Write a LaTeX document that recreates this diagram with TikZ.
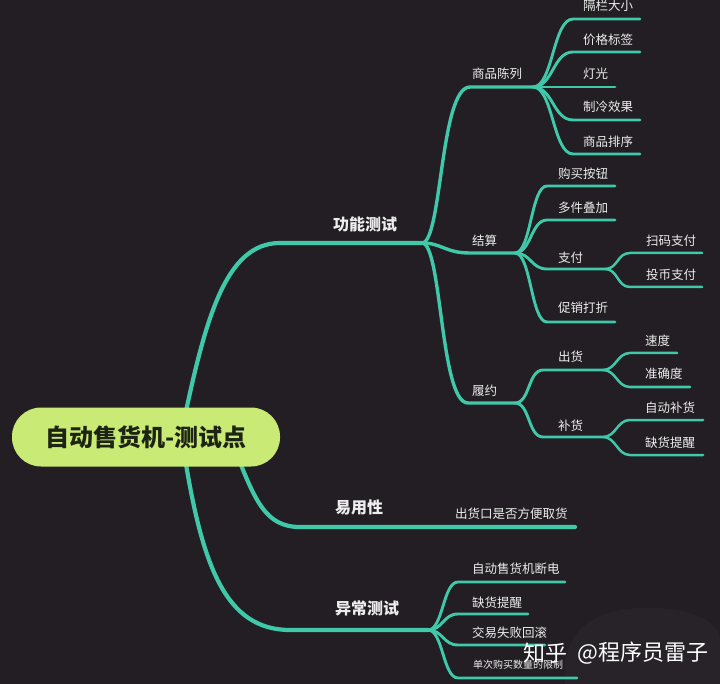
\documentclass[tikz,border=0pt]{standalone}
\usepackage{fontspec}
\newfontfamily\cjk{Noto Sans CJK SC}
\definecolor{bg}{HTML}{221E23}
\definecolor{branch}{HTML}{3FC9A9}
\definecolor{rootfill}{HTML}{C9EB75}
\definecolor{roottext}{HTML}{1E2414}
\definecolor{labeltext}{HTML}{EDEDED}
\newcommand\twig[7]{%
  \coordinate (#2a) at (#4,#3);
  \coordinate (#2b) at (#5,#3);
  \draw[#6] (#1) .. controls +(#7,0) and +(-#7,0) .. (#2a) -- (#2b);}
\begin{document}
\begin{tikzpicture}[x=1pt,y=-1pt,
  l1/.style={draw=branch,line width=4.2pt,line cap=round},
  l2/.style={draw=branch,line width=3.4pt,line cap=round},
  l3/.style={draw=branch,line width=2.9pt,line cap=round},
  l4/.style={draw=branch,line width=2.5pt,line cap=round},
  lbl/.style={anchor=west,inner sep=0pt,text=labeltext,font=\cjk\fontsize{12.5}{14}\selectfont},
  big/.style={lbl,font=\cjk\bfseries\fontsize{16}{18}\selectfont},
  small/.style={lbl,font=\cjk\fontsize{10}{12}\selectfont},
  root/.style={fill=rootfill,rounded corners=29pt,minimum width=268pt,minimum height=59pt,
    inner sep=0pt,text=roottext,font=\cjk\bfseries\fontsize{24}{28}\selectfont},
  wm/.style={anchor=west,inner sep=0pt,text=white,font=\cjk\fontsize{22}{26}\selectfont}]
\useasboundingbox (0,0) rectangle (720,684);
\fill[bg] (0,0) rectangle (720,684);
\fill[white,opacity=0.025] (565,684) .. controls (560,625) and (600,605) .. (660,608)
  .. controls (710,612) and (720,630) .. (720,640) -- (720,684) -- cycle;

% main branches
\coordinate (r1) at (182,430);
\coordinate (r2) at (235,450);
\coordinate (r3) at (184,452);
\coordinate (f1a) at (280,243); \coordinate (f1e) at (422,243);
\draw[l1] (r1) .. controls (205,320) and (225,243) .. (f1a) -- (f1e);
\coordinate (f2a) at (300,527); \coordinate (f2e) at (575,527);
\draw[l1] (r2) .. controls (255,500) and (265,527) .. (f2a) -- (f2e);
\coordinate (f3a) at (290,630); \coordinate (f3e) at (428,630);
\draw[l1] (r3) .. controls (202,565) and (225,630) .. (f3a) -- (f3e);

% level 2 under 功能测试
\coordinate (spa) at (470,87); \coordinate (sp) at (533,87);
\draw[l2] (f1e) .. controls (442,243) and (440,87) .. (spa) -- (sp);
\coordinate (jsa) at (470,253); \coordinate (js) at (515,253);
\draw[l2] (f1e) .. controls (442,243) and (445,253) .. (jsa) -- (js);
\coordinate (lya) at (468,403); \coordinate (ly) at (515,403);
\draw[l2] (f1e) .. controls (442,243) and (440,403) .. (lya) -- (ly);

% 商品陈列 children
\twig{sp}{g1}{19}{573}{640}{l3}{20}
\twig{sp}{g2}{52}{573}{640}{l3}{20}
\twig{sp}{g3}{87}{573}{615}{l3}{20}
\twig{sp}{g4}{120}{573}{640}{l3}{20}
\twig{sp}{g5}{154}{573}{640}{l3}{20}

% 结算 children
\twig{js}{j1}{186}{547}{615}{l3}{16}
\twig{js}{j2}{220}{547}{615}{l3}{16}
\twig{js}{zf}{269}{547}{605}{l3}{16}
\twig{js}{j4}{322}{547}{615}{l3}{16}
\twig{zfb}{z1}{253}{630}{702}{l4}{13}
\twig{zfb}{z2}{287}{630}{702}{l4}{13}

% 履约 children
\twig{ly}{ch}{370}{543}{603}{l3}{15}
\twig{ly}{bh}{437}{543}{603}{l3}{15}
\twig{chb}{c1}{353}{630}{677}{l4}{13}
\twig{chb}{c2}{387}{630}{690}{l4}{13}
\twig{bhb}{b1}{420}{630}{703}{l4}{13}
\twig{bhb}{b2}{455}{630}{703}{l4}{13}

% 异常测试 children
\twig{f3e}{y1}{582}{458}{565}{l3}{15}
\twig{f3e}{y2}{614}{458}{528}{l3}{15}
\twig{f3e}{y3}{645}{458}{545}{l3}{15}
\twig{f3e}{y4}{678}{458}{577}{l3}{15}

% root
\node[root] (root) at (146,437) {自动售货机-测试点};

% labels
\node[big] (t1) at (333,224) {功能测试};
\node[big] (t2) at (335,507) {易用性};
\node[big] (t3) at (335,608) {异常测试};

\node[lbl] (n1) at (472,74) {商品陈列};
\node[lbl] (n2) at (472,241) {结算};
\node[lbl] (n3) at (472,391) {履约};

\node[lbl] (g1t) at (583,6) {隔栏大小};
\node[lbl] (g2t) at (583,40) {价格标签};
\node[lbl] (g3t) at (583,74) {灯光};
\node[lbl] (g4t) at (583,107) {制冷效果};
\node[lbl] (g5t) at (583,142) {商品排序};

\node[lbl] (j1t) at (558,174) {购买按钮};
\node[lbl] (j2t) at (558,208) {多件叠加};
\node[lbl] (j3t) at (558,258) {支付};
\node[lbl] (j4t) at (558,308) {促销打折};
\node[lbl] (z1t) at (646,241) {扫码支付};
\node[lbl] (z2t) at (646,275) {投币支付};

\node[lbl] (cht) at (558,357) {出货};
\node[lbl] (bht) at (558,426) {补货};
\node[lbl] (c1t) at (645,341) {速度};
\node[lbl] (c2t) at (645,374) {准确度};
\node[lbl] (b1t) at (645,408) {自动补货};
\node[lbl] (b2t) at (645,443) {缺货提醒};

\node[lbl] (e1t) at (455,514) {出货口是否方便取货};

\node[lbl] (y1t) at (472,569) {自动售货机断电};
\node[lbl] (y2t) at (472,603) {缺货提醒};
\node[lbl] (y3t) at (472,633) {交易失败回滚};
\node[small] (y4t) at (473,665) {单次购买数量的限制};

% watermark
\node[wm] (wm1) at (523,653) {知乎};
\node[wm] (wm2) at (577,653) {@程序员雷子};
\end{tikzpicture}
\end{document}
